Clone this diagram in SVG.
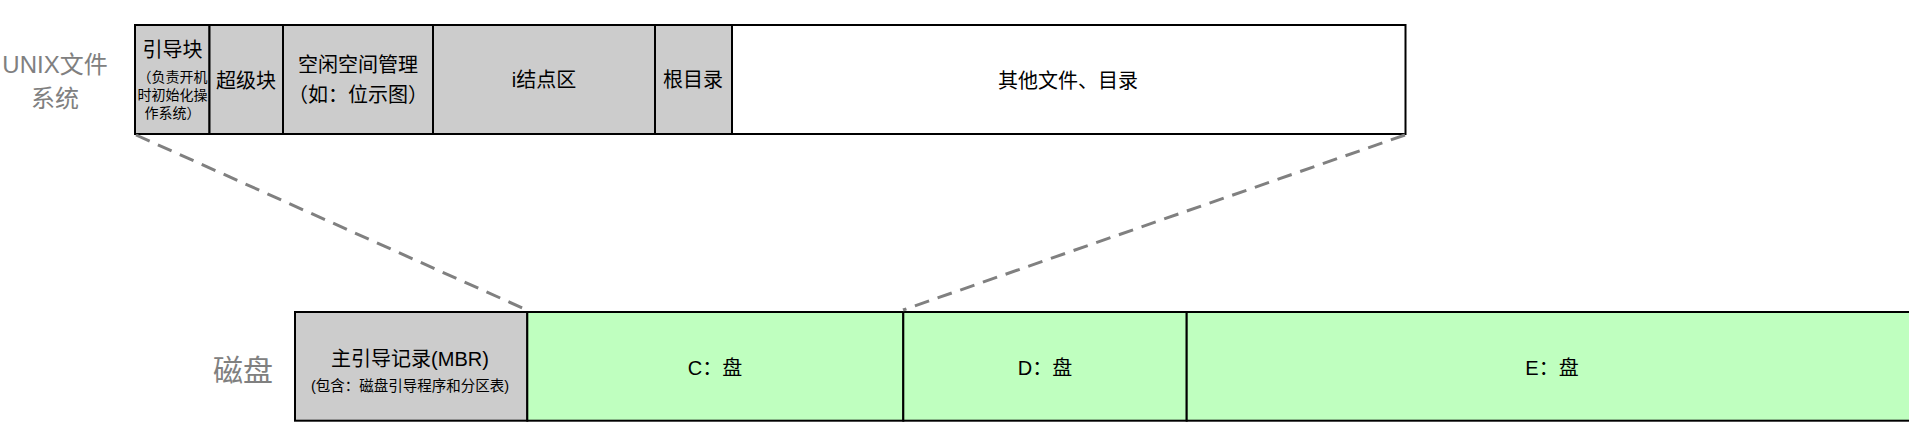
<svg xmlns="http://www.w3.org/2000/svg" width="1909" height="439" viewBox="0 0 1909 439">
<style>
text{font-family:"Liberation Sans","Noto Sans CJK SC",sans-serif;fill:#000;text-anchor:middle;dominant-baseline:central}
.g{fill:#cccccc;stroke:#000;stroke-width:2}
.w{fill:#ffffff;stroke:#000;stroke-width:2}
.p{fill:#bfffbf;stroke:#000;stroke-width:2}
.t{font-size:20px}
.s{font-size:14px}
.m{font-size:14.5px}
.lbl{fill:#808080;font-size:24px}
.big{fill:#808080;font-size:30px}
.dash{stroke:#808080;stroke-width:3;stroke-dasharray:15 9;fill:none}
</style>
<rect width="1909" height="439" fill="#fff"/>
<g id="label-unix"><text class="lbl" x="55" y="64">UNIX文件</text><text class="lbl" x="55" y="98">系统</text></g>
<g id="label-disk"><text class="big" x="243" y="370">磁盘</text></g>
<g id="boot"><rect class="g" x="135" y="25" width="74.5" height="109"/><text class="t" x="172.5" y="50">引导块</text><text class="s" x="172.5" y="77">（负责开机</text><text class="s" x="172.5" y="95">时初始化操</text><text class="s" x="172.5" y="113">作系统）</text></g>
<g id="super"><rect class="g" x="209.5" y="25" width="73.5" height="109"/><text class="t" x="246" y="81">超级块</text></g>
<g id="free"><rect class="g" x="283" y="25" width="150" height="109"/><text class="t" x="358" y="65">空闲空间管理</text><text class="t" x="358" y="95">（如：位示图）</text></g>
<g id="inode"><rect class="g" x="433" y="25" width="222" height="109"/><text class="t" x="544" y="80">i结点区</text></g>
<g id="root"><rect class="g" x="655" y="25" width="77" height="109"/><text class="t" x="693" y="80">根目录</text></g>
<g id="other"><rect class="w" x="732" y="25" width="673.5" height="109"/><text class="t" x="1068" y="81">其他文件、目录</text></g>
<g id="mbr"><rect class="g" x="295" y="312" width="232.3" height="108.7"/><text class="t" x="410" y="359">主引导记录(MBR)</text><text class="m" x="410" y="386">(包含：磁盘引导程序和分区表)</text></g>
<g id="c"><rect class="p" x="527.3" y="312" width="376" height="108.7"/><text class="t" x="715" y="368">C：盘</text></g>
<g id="d"><rect class="p" x="903.3" y="312" width="283.4" height="108.7"/><text class="t" x="1045" y="368">D：盘</text></g>
<g id="e"><rect class="p" x="1186.7" y="312" width="740" height="108.7"/><text class="t" x="1552" y="368">E：盘</text></g>
<g id="connectors"><line class="dash" x1="136" y1="135" x2="527" y2="310"/><line class="dash" x1="1405" y1="135" x2="903" y2="310"/></g>
</svg>
